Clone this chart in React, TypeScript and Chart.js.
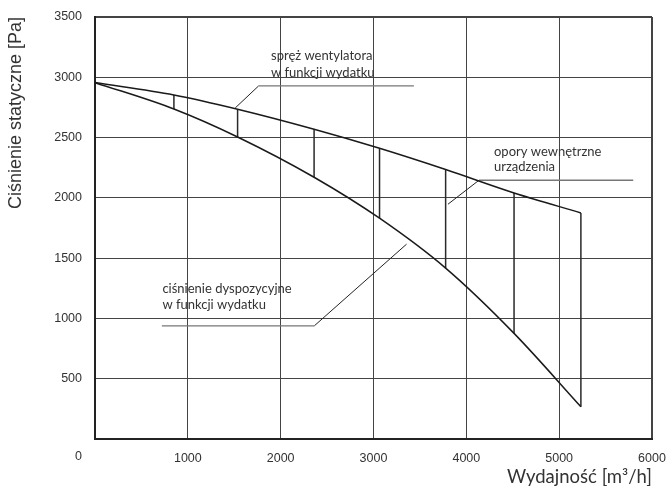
import React, { useEffect, useRef } from "react";
import { Chart, registerables } from "chart.js";

Chart.register(...registerables);

// ---- data ----
const flowTicks = [0, 1000, 2000, 3000, 4000, 5000, 6000];
const pressureTicks = [0, 500, 1000, 1500, 2000, 2500, 3000, 3500];
const flow = [0, 850, 1536, 2360, 3065, 3777, 4514, 5234];
const fanPressure = [2956, 2853, 2735, 2569, 2411, 2235, 2041, 1875];
const availablePressure = [2956, 2737, 2505, 2171, 1831, 1417, 876, 268];

const xTitle = "Wydajność [m³/h]";
const yTitle = "Ciśnienie statyczne [Pa]";

// annotation labels (positions in data units)
const annotations = [
  {
    lines: ["spręż wentylatora", "w funkcji wydatku"],
    textX: 1896,
    textY: [3182, 3033],
    shelf: [1762, 3435, 2928],
    pointerFrom: 0,
    pointer: [1511, 2746],
  },
  {
    lines: ["opory wewnętrzne", "urządzenia"],
    textX: 4298,
    textY: [2381, 2257],
    shelf: [4136, 5798, 2146],
    pointerFrom: 0,
    pointer: [3802, 1947],
  },
  {
    lines: ["ciśnienie dyspozycyjne", "w funkcji wydatku"],
    textX: 726,
    textY: [1249, 1110],
    shelf: [720, 2363, 939],
    pointerFrom: 1,
    pointer: [3356, 1616],
  },
];

const TICK_FONT = { family: "'Liberation Sans', Arial, sans-serif", size: 12.5 };

export default function App() {
  const ref = useRef<HTMLCanvasElement | null>(null);

  useEffect(() => {
    if (!ref.current) return;

    const upper = flow.map((x, i) => ({ x, y: fanPressure[i] }));
    const lower = flow.map((x, i) => ({ x, y: availablePressure[i] }));
    const verticals: any[] = [];
    flow.forEach((x, i) => {
      if (i === 0) return;
      verticals.push({ x, y: fanPressure[i] });
      verticals.push({ x, y: availablePressure[i] });
      verticals.push({ x, y: null });
    });
    const shelves: any[] = [];
    const pointers: any[] = [];
    annotations.forEach((a) => {
      shelves.push({ x: a.shelf[0], y: a.shelf[2] });
      shelves.push({ x: a.shelf[1], y: a.shelf[2] });
      shelves.push({ x: a.shelf[1], y: null });
      const startX = a.shelf[a.pointerFrom];
      pointers.push({ x: startX, y: a.shelf[2] });
      pointers.push({ x: a.pointer[0], y: a.pointer[1] });
      pointers.push({ x: a.pointer[0], y: null });
    });

    const textPlugin = {
      id: "annotText",
      afterDatasetsDraw(chart: any) {
        const { ctx, scales, chartArea } = chart;
        const xs = scales.x;
        const ys = scales.y;
        ctx.save();
        ctx.fillStyle = "#333";
        ctx.font = "13px Lato, 'Open Sans', sans-serif";
        ctx.textBaseline = "middle";
        ctx.textAlign = "left";
        annotations.forEach((a) => {
          a.lines.forEach((t, i) => {
            ctx.fillText(t, xs.getPixelForValue(a.textX), ys.getPixelForValue(a.textY[i]));
          });
        });
        ctx.font = `${TICK_FONT.size}px ${TICK_FONT.family}`;
        ctx.textAlign = "right";
        ctx.fillText("0", chartArea.left - 13, chartArea.bottom + 18);
        ctx.restore();
      },
    };

    const chart = new Chart(ref.current, {
      type: "line",
      data: {
        datasets: [
          {
            data: upper,
            borderColor: "#1a1a1a",
            borderWidth: 1.5,
            pointRadius: 0,
            cubicInterpolationMode: "monotone",
          },
          {
            data: lower,
            borderColor: "#1a1a1a",
            borderWidth: 1.5,
            pointRadius: 0,
            cubicInterpolationMode: "monotone",
          },
          {
            data: verticals,
            borderColor: "#2a2a2a",
            borderWidth: 1.5,
            pointRadius: 0,
            spanGaps: false,
            tension: 0,
          },
          {
            data: shelves,
            borderColor: "#777",
            borderWidth: 1.3,
            pointRadius: 0,
            spanGaps: false,
            tension: 0,
          },
          {
            data: pointers,
            borderColor: "#222",
            borderWidth: 1,
            pointRadius: 0,
            spanGaps: false,
            tension: 0,
          },
        ],
      },
      options: {
        animation: false,
        responsive: false,
        parsing: false as any,
        normalized: true,
        layout: { padding: { top: 17, right: 18, left: 0, bottom: 0 } },
        plugins: {
          legend: { display: false },
          tooltip: { enabled: false },
        },
        scales: {
          x: {
            type: "linear",
            min: flowTicks[0],
            max: flowTicks[flowTicks.length - 1],
            afterBuildTicks: (s: any) => {
              s.ticks = flowTicks.map((v) => ({ value: v }));
            },
            afterFit: (s: any) => {
              s.height = 47;
              s.paddingLeft = 0;
              s.paddingRight = 0;
            },
            ticks: {
              font: TICK_FONT,
              color: "#333",
              padding: 12,
              maxRotation: 0,
              callback: (v: any) => (v === 0 ? "" : String(v)),
            },
            grid: {
              color: "#444",
              lineWidth: (c: any) => (c.tick && c.tick.value === 6000 ? 2 : 1),
              drawTicks: false,
            },
            border: { color: "#222", width: 2 },
            title: {
              display: true,
              text: xTitle,
              align: "end",
              color: "#333",
              font: { family: "Lato, 'Open Sans', sans-serif", size: 18.5, lineHeight: 1 },
              padding: 0,
            },
          },
          y: {
            type: "linear",
            min: pressureTicks[0],
            max: pressureTicks[pressureTicks.length - 1],
            afterBuildTicks: (s: any) => {
              s.ticks = pressureTicks.map((v) => ({ value: v }));
            },
            afterFit: (s: any) => {
              s.width = 95;
              s.paddingTop = 0;
              s.paddingBottom = 0;
            },
            ticks: {
              font: TICK_FONT,
              color: "#333",
              padding: 13,
              callback: (v: any) => (v === 0 ? "" : String(v)),
            },
            grid: {
              color: "#444",
              lineWidth: (c: any) => (c.tick && c.tick.value === 3500 ? 2 : 1),
              drawTicks: false,
            },
            border: { color: "#222", width: 2 },
            title: {
              display: true,
              text: yTitle,
              align: "end",
              color: "#333",
              font: { family: "'Liberation Sans', Arial, sans-serif", size: 18, lineHeight: 1.2 },
              padding: { top: 5, bottom: 0 },
            },
          },
        },
      } as any,
      plugins: [textPlugin],
    });

    return () => chart.destroy();
  }, []);

  return (
    <div style={{ position: "absolute", left: 0, top: 0, width: 670, height: 486, background: "#fff" }}>
      <canvas ref={ref} width={670} height={486} style={{ display: "block" }} />
    </div>
  );
}
